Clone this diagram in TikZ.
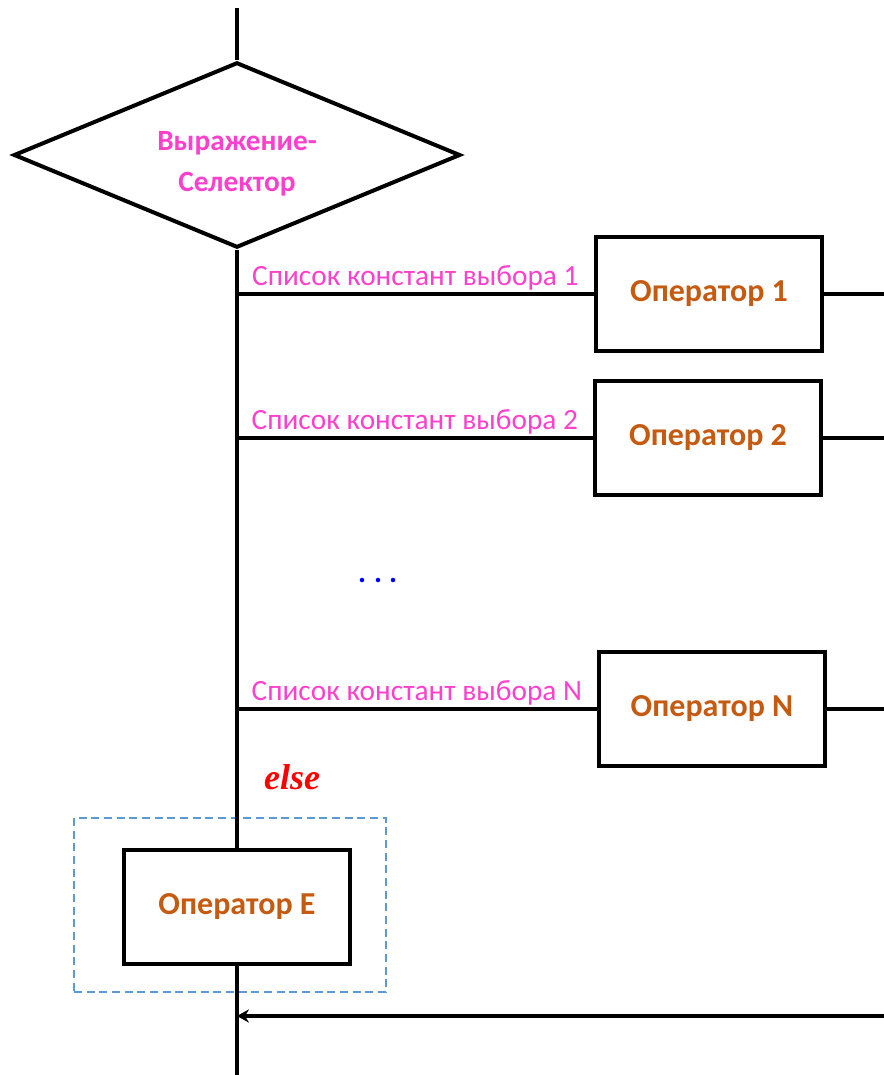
\documentclass[tikz,border=0pt]{standalone}
\usepackage{fontspec}
\setmainfont{Carlito}
\newfontfamily\elsefont{Liberation Serif}
\usetikzlibrary{arrows.meta,shapes.geometric,positioning}
\definecolor{selpink}{RGB}{255,64,204}
\definecolor{oporange}{RGB}{197,90,17}
\definecolor{grpblue}{RGB}{91,155,213}

\begin{document}
\begin{tikzpicture}[x=0.75pt,y=-0.75pt,
  wire/.style={line width=2.4pt},
  opbox/.style={rectangle,draw,line width=3pt,minimum width=170pt,minimum height=85pt,
    text=oporange,font=\fontsize{24}{28}\selectfont\bfseries},
  lbl/.style={text=selpink,font=\fontsize{22}{26}\selectfont,inner sep=2pt}]
  \useasboundingbox (0,0) rectangle (884,1075);
  % selector
  \coordinate (top) at (237,8);
  \node[diamond,aspect=2.42,draw,line width=3pt,minimum width=335pt,minimum height=139pt,inner sep=0pt,
    text=selpink,align=center,font=\fontsize{22}{31}\selectfont\bfseries] (sel) at (237,155)
    {\rule{0pt}{27pt}Выражение-\\Селектор};
  \draw[wire] (top) -- (sel.north);

  % operators
  \node[opbox] (op1) at (709,294) {Оператор 1};
  \node[opbox] (op2) at (708,438) {Оператор 2};
  \node[opbox] (opN) at (712,709) {Оператор N};
  \node[opbox] (opE) at (237,907) {Оператор E};
  \node[draw=grpblue,dashed,dash pattern=on 6pt off 3.5pt,line width=0.9pt,
    minimum width=234pt,minimum height=130.5pt] (grp) at (230,905) {};

  % branches
  \coordinate (edge) at (884,1016);
  \coordinate (b1) at (sel.south |- 0,294);
  \coordinate (b2) at (sel.south |- 0,438);
  \coordinate (bN) at (sel.south |- 0,709);
  \draw[wire] (sel.south) -- (opE.north);
  \draw[wire] (b1) -- (op1.west) node[lbl,midway,above] {Список констант выбора 1};
  \draw[wire] (b2) -- (op2.west) node[lbl,midway,above] {Список констант выбора 2};
  \draw[wire] (bN) -- (opN.west) node[lbl,midway,above] {Список констант выбора N};
  \draw[wire] (op1.east) -- (op1.east -| edge);
  \draw[wire] (op2.east) -- (op2.east -| edge);
  \draw[wire] (opN.east) -- (opN.east -| edge);
  \foreach \dx in {362,378,393}
    \fill[blue] (\dx,580) circle (1.7pt);
  \node[text=red,font=\fontsize{27}{30}\selectfont] (els) at (292,777) {\elsefont\bfseries\itshape else};

  % exit
  \coordinate (bot) at (237,1075);
  \draw[wire] (opE.south) -- (bot);
  \draw[wire,-{Stealth[length=9pt,width=10pt,inset=3pt]}] (edge) -- (edge -| opE.south);
\end{tikzpicture}
\end{document}
